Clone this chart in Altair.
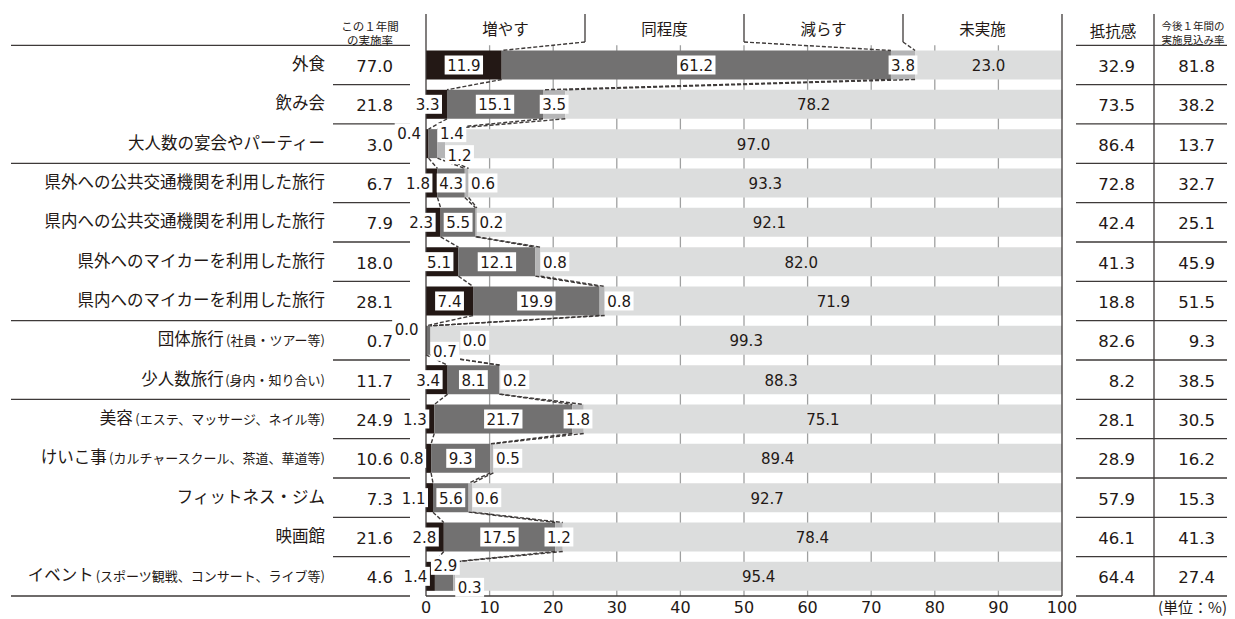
import altair as alt
import pandas as pd

# ---------------- data ----------------
categories = [
    "外食", "飲み会", "大人数の宴会やパーティー",
    "県外への公共交通機関を利用した旅行", "県内への公共交通機関を利用した旅行",
    "県外へのマイカーを利用した旅行", "県内へのマイカーを利用した旅行",
    "団体旅行", "少人数旅行",
    "美容", "けいこ事", "フィットネス・ジム", "映画館", "イベント",
]
category_notes = [
    "", "", "", "", "", "", "",
    "(社員・ツアー等)", "(身内・知り合い)",
    "(エステ、マッサージ、ネイル等)", "(カルチャースクール、茶道、華道等)",
    "", "", "(スポーツ観戦、コンサート、ライブ等)",
]
group_sizes = [3, 4, 2, 5]
series_names = ["増やす", "同程度", "減らす", "未実施"]
increase = [11.9, 3.3, 0.4, 1.8, 2.3, 5.1, 7.4, 0.0, 3.4, 1.3, 0.8, 1.1, 2.8, 1.4]
same_level = [61.2, 15.1, 1.4, 4.3, 5.5, 12.1, 19.9, 0.7, 8.1, 21.7, 9.3, 5.6, 17.5, 2.9]
decrease = [3.8, 3.5, 1.2, 0.6, 0.2, 0.8, 0.8, 0.0, 0.2, 1.8, 0.5, 0.6, 1.2, 0.3]
not_done = [23.0, 78.2, 97.0, 93.3, 92.1, 82.0, 71.9, 99.3, 88.3, 75.1, 89.4, 92.7, 78.4, 95.4]
done_rate = [77.0, 21.8, 3.0, 6.7, 7.9, 18.0, 28.1, 0.7, 11.7, 24.9, 10.6, 7.3, 21.6, 4.6]
resistance = [32.9, 73.5, 86.4, 72.8, 42.4, 41.3, 18.8, 82.6, 8.2, 28.1, 28.9, 57.9, 46.1, 64.4]
outlook = [81.8, 38.2, 13.7, 32.7, 25.1, 45.9, 51.5, 9.3, 38.5, 30.5, 16.2, 15.3, 41.3, 27.4]
x_ticks = [0, 10, 20, 30, 40, 50, 60, 70, 80, 90, 100]
header_left = "この１年間\nの実施率"
header_right = "抵抗感"
header_right2 = "今後１年間の\n実施見込み率"
unit_label = "(単位：%)"

# ---------------- style / layout ----------------
SERIES_COLORS = ["#231815", "#727171", "#B5B5B6", "#DCDDDD"]
TXT = "#231815"
LINE = "#3E3A39"
JP = "Noto Sans CJK JP"
NUM = "DejaVu Sans"
W, HGT = 1219, 610
X0_PX, X100_PX = 418, 1054
Y_TOP_PX, Y_BOT_PX = 37.3, 588
n = len(categories)
PXU = (X100_PX - X0_PX) / 100.0
PXR = (Y_BOT_PX - Y_TOP_PX) / n
HB = 14.5 / PXR  # half bar height in row units


def xu(px):
    return (px - X0_PX) / PXU


def yu(px):
    return -0.5 + (px - Y_TOP_PX) / PXR


xs = alt.Scale(domain=[0, 100], range=[X0_PX, X100_PX], nice=False, zero=False)
ys = alt.Scale(domain=[-0.5, n - 0.5], range=[Y_TOP_PX, Y_BOT_PX], nice=False, zero=False)


def X(f):
    return alt.X(f, type="quantitative", scale=xs, axis=None)


def Y(f):
    return alt.Y(f, type="quantitative", scale=ys, axis=None)


rows = list(range(n))
c1 = [round(a, 1) for a in increase]
c2 = [round(a + b, 1) for a, b in zip(increase, same_level)]
c3 = [round(a + b + c, 1) for a, b, c in zip(increase, same_level, decrease)]

# ---------------- bars ----------------
seg = []
for r in rows:
    start = 0.0
    for name, vals in zip(series_names, [increase, same_level, decrease, not_done]):
        v = vals[r]
        seg.append(dict(row=r, series=name, x0=start, x1=start + v, y0=r - HB, y1=r + HB))
        start += v
seg_df = pd.DataFrame(seg)
bars = alt.Chart(seg_df).mark_rect().encode(
    x=X("x0"), x2="x1", y=Y("y0"), y2="y1",
    color=alt.Color("series:N", scale=alt.Scale(domain=series_names, range=SERIES_COLORS), legend=None),
)

# ---------------- grid ----------------
grid_df = pd.DataFrame({"v": [t for t in x_ticks if 0 < t < 100]})
grid_df["y0"] = -0.5
grid_df["y1"] = n - 0.5
grid = alt.Chart(grid_df).mark_rule(color="#9FA0A0", strokeWidth=1.3).encode(
    x=X("v"), y=Y("y0"), y2="y1")

# ---------------- dashed connectors ----------------
HEAD_TOP = yu(6)
HEAD_BOT = yu(34)
con = []
for k, cum in enumerate([c1, c2, c3]):
    con.append(dict(xa=25 * (k + 1), ya=HEAD_BOT, xb=cum[0], yb=-HB))
    for r in range(n - 1):
        con.append(dict(xa=cum[r], ya=r + HB, xb=cum[r + 1], yb=r + 1 - HB))
con_df = pd.DataFrame(con)
connectors = alt.Chart(con_df).mark_rule(color=LINE, strokeWidth=1.4, strokeDash=[4, 2]).encode(
    x=X("xa"), x2="xb", y=Y("ya"), y2="yb")

# ---------------- solid frame / table lines ----------------
bounds = [-0.5]
acc = -0.5
for g in group_sizes:
    acc += g
    bounds.append(acc)
all_bounds = [r - 0.5 for r in range(n + 1)]
lines = []
lines.append(dict(xa=0, xb=0, ya=HEAD_TOP, yb=n - 0.5))
lines.append(dict(xa=100, xb=100, ya=HEAD_TOP, yb=n - 0.5))
lines.append(dict(xa=0, xb=100, ya=n - 0.5, yb=n - 0.5))
for sep in [25, 50, 75]:
    lines.append(dict(xa=sep, xb=sep, ya=HEAD_TOP, yb=HEAD_BOT))
for b in all_bounds:
    if b in bounds:
        lines.append(dict(xa=xu(3), xb=xu(402), ya=b, yb=b))
    else:
        lines.append(dict(xa=xu(325), xb=xu(402), ya=b, yb=b))
for b in all_bounds:
    lines.append(dict(xa=xu(1068), xb=xu(W), ya=b, yb=b))
lines.append(dict(xa=xu(1146), xb=xu(1146), ya=HEAD_TOP, yb=n - 0.5))
lines_df = pd.DataFrame(lines)
frame = alt.Chart(lines_df).mark_rule(color=LINE, strokeWidth=1.3).encode(
    x=X("xa"), x2="xb", y=Y("ya"), y2="yb")

# ---------------- value labels on bars ----------------
LABEL_FS = 15
BOX_PAD = 2.5
BOX_H = 19
TIER_DY = 11
tier_map = {(2, "増やす"): -1, (2, "同程度"): -1, (2, "減らす"): 1,
            (7, "増やす"): -1, (7, "同程度"): 1,
            (13, "同程度"): -1, (13, "減らす"): 1}
anchor_override = {(2, "同程度"): "after", (2, "減らす"): "after",
                   (7, "同程度"): "after", (7, "減らす"): "after"}


def text_w(s, fs=LABEL_FS):
    return sum(0.318 if ch == "." else 0.636 for ch in s) * fs


lab = []
for r in rows:
    bnd = [0, c1[r], c2[r], c3[r]]
    placed = []
    for k, (name, vals) in enumerate(zip(series_names[:3], [increase, same_level, decrease])):
        v = vals[r]
        s, e = bnd[k], bnd[k + 1]
        t = f"{v:.1f}"
        w = text_w(t) + 2 * BOX_PAD
        seg_px = (e - s) * PXU
        if k == 0:
            anchor = "center" if seg_px >= 40 else "before"
        elif k == 1:
            anchor = "center"
        else:
            anchor = "after" if seg_px < 7 else "center"
        anchor = anchor_override.get((r, name), anchor)
        dy = tier_map.get((r, name), 0) * TIER_DY
        if anchor == "before":
            left = e * PXU - 5 - w
        elif anchor == "after":
            left = e * PXU
        else:
            left = (s + e) / 2 * PXU - w / 2
        moved = True
        while moved:
            moved = False
            for (pl, pr, pdy) in placed:
                if abs(pdy - dy) < BOX_H and left < pr + 1 and left + w > pl - 1:
                    left = pr + 1
                    moved = True
        placed.append((left, left + w, dy))
        yc = r + dy / PXR
        lab.append(dict(t=t, x=(left + w / 2) / PXU, bx0=left / PXU, bx1=(left + w) / PXU,
                        y=yc, by0=yc - BOX_H / 2 / PXR, by1=yc + BOX_H / 2 / PXR))
lab_df = pd.DataFrame(lab)
boxes = alt.Chart(lab_df).mark_rect(color="white").encode(
    x=X("bx0"), x2="bx1", y=Y("by0"), y2="by1")
labels = alt.Chart(lab_df).mark_text(font=NUM, fontSize=LABEL_FS, color=TXT, baseline="middle", dy=1).encode(
    x=X("x"), y=Y("y"), text="t:N")

none_df = pd.DataFrame({"t": [f"{v:.1f}" for v in not_done],
                        "x": [(a + 100) / 2 for a in c3], "y": rows})
none_labels = alt.Chart(none_df).mark_text(font=NUM, fontSize=LABEL_FS, color=TXT, baseline="middle", dy=1).encode(
    x=X("x"), y=Y("y"), text="t:N")

# ---------------- left table ----------------
NOTE_FS = 13
CAT_FS = 16.5
CAT_RIGHT = 317


def note_w(s):
    return sum(0.36 if ch in "()" else 1.0 for ch in s) * NOTE_FS


cat_df = pd.DataFrame({
    "t": categories,
    "x": [xu(CAT_RIGHT - note_w(nt) - (1 if nt else 0)) for nt in category_notes],
    "y": rows,
})
cat_text = alt.Chart(cat_df).mark_text(font=JP, fontSize=CAT_FS, color=TXT, align="right", baseline="middle").encode(
    x=X("x"), y=Y("y"), text="t:N")
note_df = pd.DataFrame({"t": category_notes, "x": [xu(CAT_RIGHT)] * n, "y": rows})
note_df = note_df[note_df["t"] != ""]
note_text = alt.Chart(note_df).mark_text(font=JP, fontSize=NOTE_FS, color=TXT, align="right", baseline="middle", dy=1).encode(
    x=X("x"), y=Y("y"), text="t:N")

TABLE_FS = 16.5
rate_df = pd.DataFrame({"t": [f"{v:.1f}" for v in done_rate], "x": [xu(385)] * n, "y": rows})
rate_text = alt.Chart(rate_df).mark_text(font=NUM, fontSize=TABLE_FS, color=TXT, align="right", baseline="middle", dy=2).encode(
    x=X("x"), y=Y("y"), text="t:N")

# ---------------- right table ----------------
res_df = pd.DataFrame({"t": [f"{v:.1f}" for v in resistance], "x": [xu(1127)] * n, "y": rows})
res_text = alt.Chart(res_df).mark_text(font=NUM, fontSize=TABLE_FS, color=TXT, align="right", baseline="middle", dy=2).encode(
    x=X("x"), y=Y("y"), text="t:N")
out_df = pd.DataFrame({"t": [f"{v:.1f}" for v in outlook], "x": [xu(1207)] * n, "y": rows})
out_text = alt.Chart(out_df).mark_text(font=NUM, fontSize=TABLE_FS, color=TXT, align="right", baseline="middle", dy=2).encode(
    x=X("x"), y=Y("y"), text="t:N")

# ---------------- headers ----------------
head_df = pd.DataFrame({"t": series_names, "x": [12.5, 37.5, 62.5, 87.5], "y": [yu(21.5)] * 4})
head_text = alt.Chart(head_df).mark_text(font=JP, fontSize=15.5, color=TXT, baseline="middle").encode(
    x=X("x"), y=Y("y"), text="t:N")
hl_df = pd.DataFrame({"t": [header_left], "x": [xu(362)], "y": [yu(20)]})
hl_text = alt.Chart(hl_df).mark_text(font=JP, fontSize=11.5, lineHeight=14, lineBreak="\n",
                                     color=TXT, baseline="middle").encode(
    x=X("x"), y=Y("y"), text="t:N")
hr_df = pd.DataFrame({"t": [header_right], "x": [xu(1105)], "y": [yu(24)]})
hr_text = alt.Chart(hr_df).mark_text(font=JP, fontSize=15.5, color=TXT, baseline="middle").encode(
    x=X("x"), y=Y("y"), text="t:N")
hr2_df = pd.DataFrame({"t": [header_right2], "x": [xu(1185)], "y": [yu(19)]})
hr2_text = alt.Chart(hr2_df).mark_text(font=JP, fontSize=10.5, lineHeight=13.5, lineBreak="\n",
                                       color=TXT, baseline="middle").encode(
    x=X("x"), y=Y("y"), text="t:N")

# ---------------- x tick labels and unit ----------------
tick_df = pd.DataFrame({"v": x_ticks, "t": [str(t) for t in x_ticks], "y": [yu(600)] * len(x_ticks)})
tick_text = alt.Chart(tick_df).mark_text(font=NUM, fontSize=16, color=TXT, baseline="middle").encode(
    x=X("v"), y=Y("y"), text="t:N")
unit_df = pd.DataFrame({"t": [unit_label], "x": [xu(W)], "y": [yu(600)]})
unit_text = alt.Chart(unit_df).mark_text(font=JP, fontSize=15, color=TXT, align="right", baseline="middle").encode(
    x=X("x"), y=Y("y"), text="t:N")

chart = alt.layer(
    grid, bars, connectors, frame, boxes, labels, none_labels,
    cat_text, note_text, rate_text, res_text, out_text,
    head_text, hl_text, hr_text, hr2_text, tick_text, unit_text,
).properties(
    width=W, height=HGT, padding=0, autosize=alt.AutoSizeParams(type="none"),
).configure_view(strokeWidth=0)

chart.save("out.html", embed_options={"renderer": "svg", "actions": False})
